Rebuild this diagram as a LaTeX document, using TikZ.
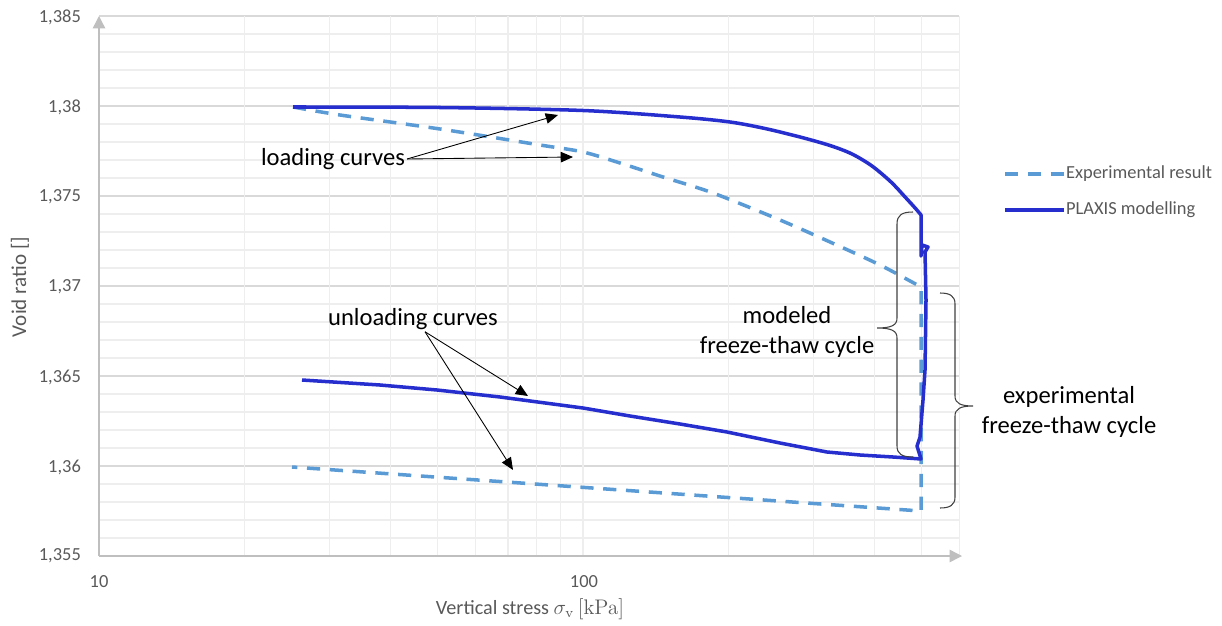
\documentclass[tikz,border=0pt]{standalone}
\usepackage[no-math]{fontspec}
\setmainfont{Carlito}
\usetikzlibrary{arrows.meta}

\definecolor{expblue}{RGB}{91,155,213}
\definecolor{plaxisblue}{RGB}{38,46,206}
\definecolor{gridmajor}{RGB}{217,217,217}
\definecolor{gridminor}{RGB}{238,238,238}
\definecolor{axisgray}{RGB}{191,191,191}
\definecolor{ticktext}{RGB}{89,89,89}

\tikzset{
  expcurve/.style={draw=expblue, line width=2pt, dash pattern=on 7.5pt off 5.5pt},
  plaxiscurve/.style={draw=plaxisblue, line width=2pt, line join=round},
  note/.style={font=\fontsize{14}{16.8}\selectfont, align=center, inner sep=1pt},
  ticklabel/.style={font=\fontsize{10.5}{12.6}\selectfont, text=ticktext, inner sep=1pt},
  pointer/.style={-{Triangle[length=7pt,width=6pt]}, black, line width=0.5pt},
  bracket/.style={draw=black!75, line width=0.6pt}
}

\begin{document}
\begin{tikzpicture}[x=0.02cm, y=-0.02cm]
\useasboundingbox (0,0) rectangle (1222,625);

% grid
\foreach \e in {1,...,29}
    \draw[gridminor, line width=0.6pt] (99,{556-18*\e}) -- (959,{556-18*\e});
\foreach \e in {5,10,...,30}
    \draw[gridmajor, line width=0.7pt] (99,{556-18*\e}) -- (959,{556-18*\e});
\foreach \s in {20,30,...,100,200,300,400,500,600}
    \draw[gridminor, line width=0.6pt] ({99+484*log10(\s/10)},16) -- ++(0,540);

% axes
\begin{scope}[axisgray, line width=0.8pt]
    \draw[-{Triangle[length=7pt,width=7pt]}] (99,556) -- (962,556);
    \draw[-{Triangle[length=7pt,width=7pt]}] (99,556) -- (99,16);
\end{scope}

% tick labels
\foreach \y/\t [count=\i] in {556/{1,355}, 467/{1,36}, 377/{1,365}, 287/{1,37}, 197/{1,375}, 107/{1,38}, 17/{1,385}}
    \node[ticklabel, anchor=east] (ytick\i) at (83,\y) {\t};
\node[ticklabel] (xtick10) at (99,582) {10};
\node[ticklabel] (xtick100) at (584,582) {100};

\node[ticklabel, font=\fontsize{12}{14}\selectfont, rotate=90] (ylabel) at (20,287) {Void ratio []};
\node[ticklabel, font=\fontsize{11.5}{13.5}\selectfont] (xlabel) at (530,609) {Vertical stress $\sigma_{\mathrm{v}}\,[\mathrm{kPa}]$};

% experimental result
\draw[expcurve] plot[smooth] coordinates {(293,107) (340,115) (440,129) (540,145) (583,152)
    (620,163) (663,177) (713,193) (780,220) (830,242) (880,265) (921,287)}
    -- (921,511) -- (292,467);

% PLAXIS modelling
\draw[plaxiscurve] plot[smooth] coordinates {(293,107) (440,107.5) (583,110.5) (680,117)
    (730,122) (765,128.5) (800,137) (830,145.5) (852,154) (872,166) (891,182) (906,198)
    (916,209) (921,215)}
    -- (921,256) -- (922,245) -- (928,247) -- (925,252) -- (926,300) -- (925,370)
    -- (923,400) -- (920,437) -- (917,446) -- (921,459) -- (893,457) -- (860,455)
    -- (827,452) -- (780,443) -- (727,432) -- (680,424) -- (630,416) -- (583,408)
    -- (500,397) -- (437,390) -- (380,385) -- (302,380);

% legend
\node[ticklabel, anchor=west] (legexp) at (1064,174) {Experimental result};
\node[ticklabel, anchor=west] (legplaxis) at (1064,210) {PLAXIS modelling};
\coordinate (legexpstart) at (1005,174);
\coordinate (legplaxisstart) at (1005,210);
\draw[expcurve] (legexpstart) -- (legexp.west);
\draw[plaxiscurve] (legplaxisstart) -- (legplaxis.west);

% annotations
\node[note] (loading) at (333,159) {loading curves};
\node[note] (unloading) at (413,319) {unloading curves};
\node[note] (modeled) at (787,332) {modeled\\freeze-thaw cycle};
\node[note] (experimental) at (1069,412) {experimental\\freeze-thaw cycle};

\coordinate (loadtipA) at (558,115);
\coordinate (loadtipB) at (573,157);
\coordinate (unloadtipA) at (528,396);
\coordinate (unloadtipB) at (513,470);

\draw[pointer] (loading.east) -- (loadtipA);
\draw[pointer] (loading.east) -- (loadtipB);
\draw[pointer] ([xshift=0.24cm]unloading.south) -- (unloadtipA);
\draw[pointer] ([xshift=0.24cm]unloading.south) -- (unloadtipB);

% braces
\draw[bracket] (913,212) .. controls (902,212) and (897,215) .. (897,224) -- (897,318)
    .. controls (897,325) and (892,328) .. (877,328)
    .. controls (892,328) and (897,331) .. (897,338) -- (897,446)
    .. controls (897,454) and (902,457) .. (913,457);
\draw[bracket] (940,293) .. controls (950,293) and (955,296) .. (955,304) -- (955,396)
    .. controls (955,403) and (960,406) .. (973,406)
    .. controls (960,406) and (955,409) .. (955,416) -- (955,497)
    .. controls (955,505) and (950,508) .. (940,508);
\end{tikzpicture}
\end{document}
